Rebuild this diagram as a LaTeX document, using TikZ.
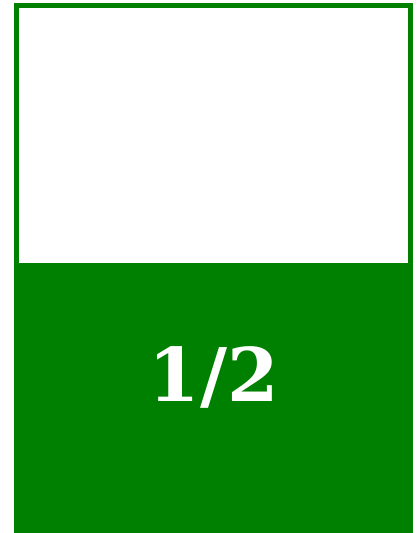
\documentclass[tikz,border=0pt]{standalone}
\usepackage{fontspec}
\newfontfamily\labelfont{DejaVu Serif}
\definecolor{webgreen}{HTML}{008000}
\begin{document}
\begin{tikzpicture}[x=1pt,y=1pt,
  frame/.style={draw=webgreen,line width=5pt},
  lower/.style={fill=webgreen},
  valtext/.style={text=white,font=\labelfont\bfseries\fontsize{74}{74}\selectfont,inner sep=0pt}]
\useasboundingbox (0,0) rectangle (417,533);
\fill[lower] (14,0) rectangle (413,270);
\draw[frame] (16.5,-5) -- (16.5,527.5) -- (410.5,527.5) -- (410.5,-5);
\node[valtext,anchor=base] (val) at (214,131) {1/2};
\end{tikzpicture}
\end{document}
